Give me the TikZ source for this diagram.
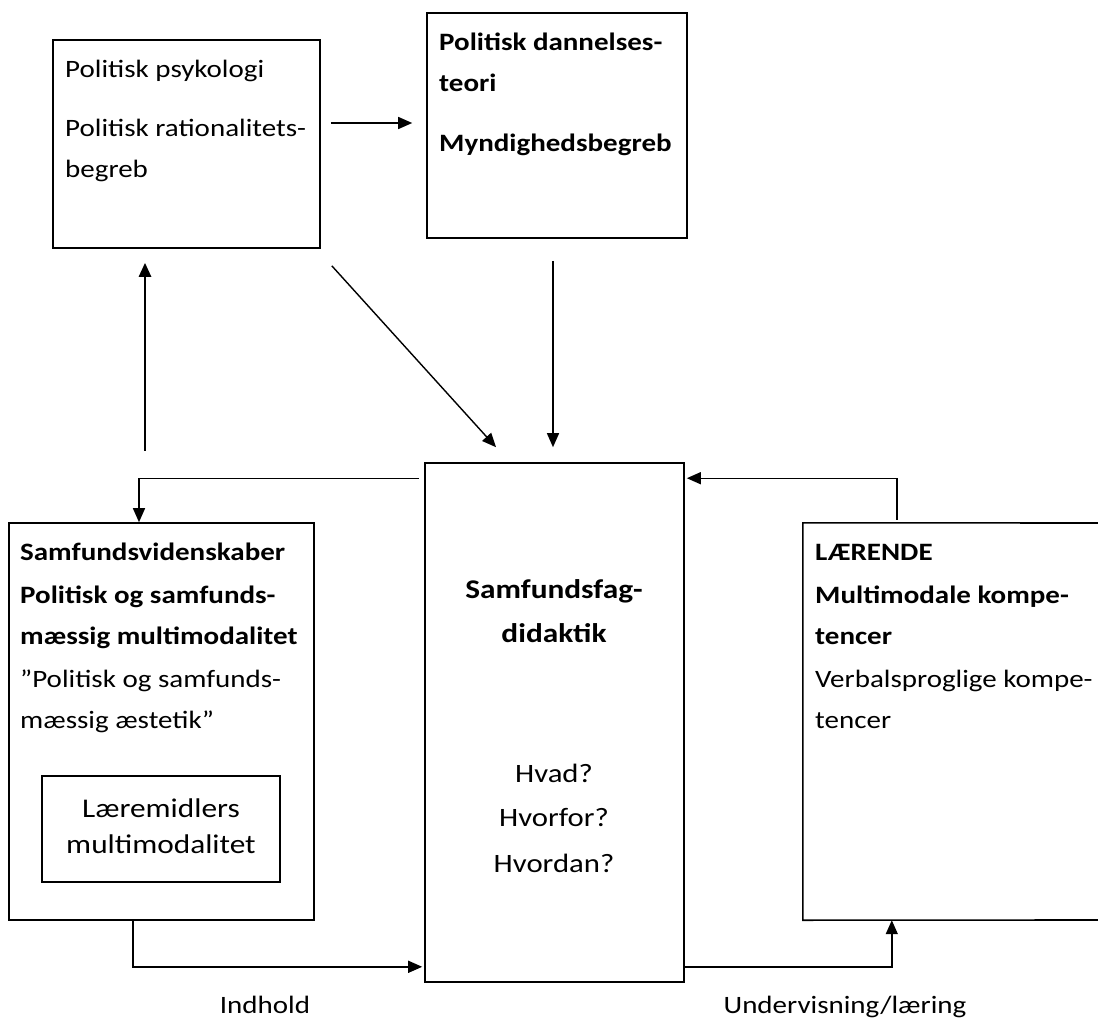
\documentclass[tikz,border=0pt]{standalone}
\usepackage{fontspec}
\setmainfont{Carlito}[FakeStretch=1.16]
\usetikzlibrary{arrows.meta,calc}

\begin{document}
\begin{tikzpicture}[x=1pt,y=-1pt,
  box/.style={draw=black,line width=1.6pt,minimum width=#1,inner sep=0pt},
  txt/.style={anchor=base west,inner sep=0pt,font=\fontsize{25}{30}\selectfont},
  btxt/.style={txt,font=\fontsize{25}{30}\selectfont\bfseries},
  ctxt/.style={txt,anchor=base},
  qtxt/.style={ctxt,font=\fontsize{26.5}{31}\selectfont},
  bigbold/.style={ctxt,font=\fontsize{27}{32}\selectfont\bfseries},
  bigtxt/.style={ctxt,font=\fontsize{27}{32}\selectfont},
  arr/.style={line width=1.4pt,-{Triangle[length=14pt,width=12pt]}},
  arrthick/.style={arr,line width=2.6pt}
]
\useasboundingbox (0,0) rectangle (1098,1019);
\fill[white] (0,0) rectangle (1098,1019);

% boxes
\node[box=267pt,minimum height=208pt] (A) at (186.5,144) {};
\node[box=260pt,minimum height=225pt] (B) at (557,125.5) {};
\node[box=259pt,minimum height=519pt] (C) at (554.5,722.5) {};
\node[box=305pt,minimum height=397pt] (D) at (161.5,721.5) {};
\node[box=238pt,minimum height=106pt] (E) at (161,829) {};
\node[minimum width=307pt,minimum height=397pt,inner sep=0pt] (F) at (956.5,721.5) {};
\draw[line width=1.6pt] (1098,523) -- (F.north west) -- (F.south west) -- (1098,920);

% texts
\node[txt]  (a1) at (65,78)  {Politisk psykologi};
\node[txt]  (a2) at (65,137) {Politisk rationalitets-};
\node[txt]  (a3) at (65,178) {begreb};

\node[btxt] (b1) at (439,51)  {Politisk dannelses-};
\node[btxt] (b2) at (439,92)  {teori};
\node[btxt] (b3) at (439,152) {Myndighedsbegreb};

\node[bigbold] (c1) at (554,598) {Samfundsfag-};
\node[bigbold] (c2) at (554,642) {didaktik};
\node[qtxt] (c3) at (554,782) {Hvad?};
\node[qtxt] (c4) at (554,826) {Hvorfor?};
\node[qtxt] (c5) at (554,872) {Hvordan?};

\node[btxt] (d1) at (20,560) {Samfundsvidenskaber};
\node[btxt] (d2) at (20,603) {Politisk og samfunds-};
\node[btxt] (d3) at (20,644) {mæssig multimodalitet};
\node[txt]  (d4) at (20,687) {”Politisk og samfunds-};
\node[txt]  (d5) at (20,728) {mæssig æstetik”};

\node[bigtxt] (e1) at (161,817) {Læremidlers};
\node[bigtxt] (e2) at (161,853) {multimodalitet};

\node[btxt] (f1) at (815,560) {LÆRENDE};
\node[btxt] (f2) at (815,603) {Multimodale kompe-};
\node[btxt] (f3) at (815,644) {tencer};
\node[txt]  (f4) at (815,687) {Verbalsproglige kompe-};
\node[txt]  (f5) at (815,728) {tencer};

\node[ctxt] (l1) at (265,1013) {Indhold};
\node[ctxt] (l2) at (845,1013) {Undervisning/læring};

% connectors
\draw[arr] ($(A.east)+(10,-21)$) -- ($(B.west)+(-14,-2.5)$);
\draw[arrthick] ($(A.south)+(-41.5,202)$) -- ($(A.south)+(-41.5,14)$);
\draw[arr] ($(A.south east)+(11,17)$) -- ($(C.north)+(-58.5,-15)$);
\draw[arr] ($(B.south)+(-4,22)$) -- ($(C.north)+(-1.5,-15)$);
\draw[arr] ($(C.north west)+(-5,16)$) -| ($(D.north)+(-22.5,0)$);
\draw[arr] ($(F.north west)+(94,-3)$) |- ($(C.north east)+(2,16)$);
\draw[arr] ($(D.south)+(-28.5,0)$) |- ($(C.south west)+(-2,-16)$);
\draw[arr] ($(C.south east)+(0,-16)$) -| ($(F.south west)+(89,0)$);
\end{tikzpicture}
\end{document}
